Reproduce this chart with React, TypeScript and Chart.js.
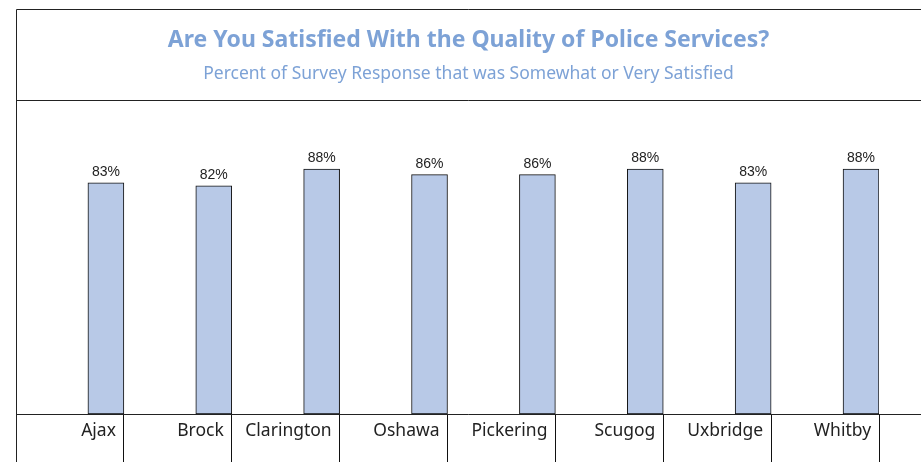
import React, { useEffect, useRef } from "react";
import { Chart, registerables } from "chart.js";

Chart.register(...registerables);

const categories = ["Ajax", "Brock", "Clarington", "Oshawa", "Pickering", "Scugog", "Uxbridge", "Whitby"];
const satisfiedPct = [83, 82, 88, 86, 86, 88, 83, 88];
const titleText = "Are You Satisfied With the Quality of Police Services?";
const subtitleText = "Percent of Survey Response that was Somewhat or Very Satisfied";

const FONT = "'Noto Sans', sans-serif";

const framePlugin = {
  id: "frame",
  afterLayout(chart: any) {
    chart.boxes.forEach((b: any) => {
      if (b.position === "top" && b.options && b.options.text !== undefined) {
        b.left = 16;
        b.right = chart.width;
        b.width = chart.width - 16;
      }
    });
  },
  afterDraw(chart: any) {
    const ctx = chart.ctx;
    const W = chart.width;
    const H = chart.height;
    const area = chart.chartArea;
    ctx.save();
    ctx.strokeStyle = "#222";
    ctx.lineWidth = 1;
    ctx.beginPath();
    ctx.moveTo(16.5, 9.5);
    ctx.lineTo(W, 9.5);
    ctx.moveTo(16.5, 100.5);
    ctx.lineTo(W, 100.5);
    ctx.moveTo(16.5, 9.5);
    ctx.lineTo(16.5, H);
    ctx.moveTo(16.5, Math.round(area.bottom) + 0.5);
    ctx.lineTo(W, Math.round(area.bottom) + 0.5);
    ctx.stroke();

    // value labels
    const meta = chart.getDatasetMeta(2);
    ctx.fillStyle = "#222";
    ctx.font = "14px 'Liberation Sans', Arial, sans-serif";
    ctx.textAlign = "center";
    ctx.textBaseline = "alphabetic";
    meta.data.forEach((bar: any, i: number) => {
      const v = satisfiedPct[i];
      ctx.fillText(v + "%", bar.x, bar.y - 7);
    });
    ctx.restore();
  },
};

export default function App() {
  const ref = useRef<HTMLCanvasElement>(null);
  useEffect(() => {
    if (!ref.current) return;
    const empty = categories.map(() => null);
    const chart = new Chart(ref.current, {
      type: "bar",
      data: {
        labels: categories,
        datasets: [
          { data: empty as any, backgroundColor: "transparent" },
          { data: empty as any, backgroundColor: "transparent" },
          {
            data: satisfiedPct,
            backgroundColor: "#B8C9E7",
            borderColor: "#111",
            borderWidth: 1,
            borderSkipped: false,
          },
        ],
      },
      options: {
        responsive: false,
        animation: false,
        events: [],
        layout: { padding: { left: 16, right: 42, top: 0, bottom: 0 } },
        datasets: { bar: { barPercentage: 1, categoryPercentage: 1 } },
        plugins: {
          legend: { display: false },
          tooltip: { enabled: false },
          title: {
            display: true,
            text: titleText,
            color: "#7DA2D6",
            font: { family: FONT, size: 23, weight: "bold" },
            padding: { top: 27, bottom: 9 },
          },
          subtitle: {
            display: true,
            text: subtitleText,
            color: "#7DA2D6",
            font: { family: FONT, size: 17.5, weight: "normal" },
            padding: { top: 0, bottom: 51 },
          },
        },
        scales: {
          x: {
            grid: {
              offset: true,
              drawOnChartArea: false,
              drawTicks: true,
              tickLength: 48,
              color: "#111",
              lineWidth: 1,
            },
            border: { display: false },
            ticks: {
              align: "end",
              labelOffset: 46,
              padding: -41,
              color: "#222",
              font: { family: FONT, size: 17.5 },
              maxRotation: 0,
              autoSkip: false,
            },
            afterFit: (scale: any) => {
              scale.height = 48;
            },
          },
          y: {
            display: false,
            min: 0,
            max: 100,
          },
        },
      },
      plugins: [framePlugin],
    });
    return () => chart.destroy();
  }, []);
  return (
    <div style={{ position: "absolute", left: 0, top: 0, width: 921, height: 462, background: "#fff" }}>
      <canvas ref={ref} width={921} height={462} />
    </div>
  );
}
